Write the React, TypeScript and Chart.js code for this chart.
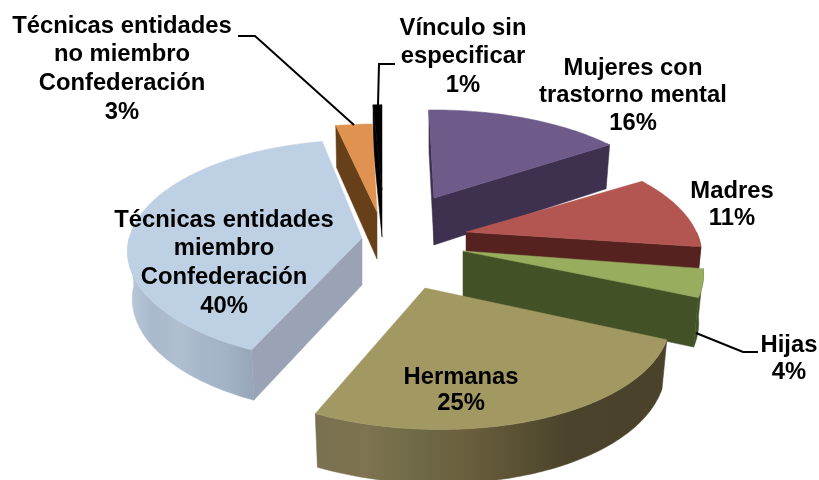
import React, { useEffect, useRef } from "react";
import { Chart, registerables } from "chart.js";

Chart.register(...registerables);

const categories = [
  "Mujeres con trastorno mental",
  "Madres",
  "Hijas",
  "Hermanas",
  "Técnicas entidades miembro Confederación",
  "Técnicas entidades no miembro Confederación",
  "Vínculo sin especificar",
];
const values = [16, 11, 4, 25, 40, 3, 1];
const topColors = ["#6F5B8A", "#B35651", "#98AE5E", "#A29862", "#BED0E4", "#E09350", "#000000"];
const wallColors = ["#3E304F", "#552220", "#435126", "#4A4229", "#99A3B5", "#673F18", "#000000"];
const rimStops = [
  ["#3E304F"],
  ["#552220"],
  ["#435126"],
  ["#78714F", "#7F7351", "#6E6A47", "#6B5F3E", "#5A5233", "#4B432B", "#4A422A", "#4A4229"],
  ["#BACADC", "#A9B9CB", "#AFBFD0", "#A7B7C9", "#A3B3C6", "#96A6B8"],
  ["#673F18"],
  ["#000000"],
];
// Explosion of each slice from the pie centre, pixels
const explodeX = [24.5, 56.5, 53.5, 15.5, -47.5, -32.5, -27.5];
const explodeY = [-42, -8, 11, 48, -2, -28, -50];
// Per-slice corrections of the 3-D view
const sliceTurn = [1.5, 3.5, 5, 3, 6.4, 5.2, 3];
const sliceScaleX = [0.985, 0.96, 0.98, 1, 0.97, 0.98, 0.72];
const sliceSquash = [0.444, 0.444, 0.444, 0.465, 0.458, 0.444, 0.43];
const slicePersp = [0.21, 0.21, 0.21, 0.21, 0.12, 0.21, 0.21];
const sliceShear = [0, 0, 0, 0.03, 0, 0, 0];
// Back to front
const paintOrder = [6, 5, 4, 0, 1, 2, 3];

const labelLines = [
  ["Mujeres con", "trastorno mental", "16%"],
  ["Madres", "11%"],
  ["Hijas", "4%"],
  ["Hermanas", "25%"],
  ["Técnicas entidades", "miembro", "Confederación", "40%"],
  ["Técnicas entidades", "no miembro", "Confederación", "3%"],
  ["Vínculo sin", "especificar", "1%"],
];
const labelX = [633, 732, 789, 461, 224, 122, 463];
const labelY = [68, 191, 345, 377, 220, 26, 28];
const labelGap = [27.5, 27, 27, 26, 28.7, 28.7, 28.5];

const leaderLines = [
  [[696, 333], [743, 352], [758, 352]],
  [[238, 36], [255, 36], [354, 125]],
  [[395, 64], [379, 64], [378, 105]],
];

const ROTATION = -3;
const DEPTH = 47;

const pieProjection = {
  id: "pieProjection",
  beforeDatasetsDraw(chart: any) {
    const ctx = chart.ctx as CanvasRenderingContext2D;
    const meta = chart.getDatasetMeta(0);
    const place = (i: number, a: number, el: any, down: boolean) => {
      const R = el.outerRadius;
      const u = Math.sin(a);
      const v = -Math.cos(a);
      const k = 1 / (1 - slicePersp[i] * v);
      const x = R * sliceScaleX[i] * u * k * (down ? 0.98 : 1);
      const y = R * sliceSquash[i] * v * k + sliceShear[i] * x + (down ? DEPTH * Math.pow(k, 0.6) : 0);
      return [el.x + explodeX[i] + x, el.y + explodeY[i] + y];
    };
    const apex = (i: number, el: any, down: boolean) => [
      el.x + explodeX[i],
      el.y + explodeY[i] + (down ? DEPTH : 0),
    ];
    const poly = (pts: number[][], fill: any) => {
      ctx.beginPath();
      pts.forEach((p, n) => (n ? ctx.lineTo(p[0], p[1]) : ctx.moveTo(p[0], p[1])));
      ctx.closePath();
      ctx.fillStyle = fill;
      ctx.fill();
      ctx.strokeStyle = fill;
      ctx.lineWidth = 0.5;
      ctx.stroke();
    };
    for (const i of paintOrder) {
      const el = meta.data[i];
      const turn = (sliceTurn[i] * Math.PI) / 180;
      const s = el.startAngle + Math.PI / 2 + turn;
      const e = el.endAngle + Math.PI / 2 + turn;
      const steps = Math.max(2, Math.ceil(((e - s) * 180) / Math.PI));
      const angleAt = (n: number) => s + ((e - s) * n) / steps;

      // straight walls that face the viewer
      if (Math.sin(s) < 0) {
        poly([apex(i, el, false), place(i, s, el, false), place(i, s, el, true), apex(i, el, true)], wallColors[i]);
      }
      if (Math.sin(e) > 0) {
        poly([apex(i, el, false), place(i, e, el, false), place(i, e, el, true), apex(i, el, true)], wallColors[i]);
      }
      // rim
      const a0 = Math.max(s, Math.PI / 2);
      const a1 = Math.min(e, (3 * Math.PI) / 2);
      if (a1 > a0) {
        const n = Math.ceil(((a1 - a0) * 180) / Math.PI) + 1;
        const upper: number[][] = [];
        const lower: number[][] = [];
        for (let j = 0; j <= n; j++) {
          const a = a0 + ((a1 - a0) * j) / n;
          upper.push(place(i, a, el, false));
          lower.push(place(i, a, el, true));
        }
        const all = upper.concat(lower);
        const xs = all.map((p) => p[0]);
        const grad = ctx.createLinearGradient(Math.min(...xs), 0, Math.max(...xs), 0);
        const stops = rimStops[i];
        stops.forEach((c, m) => grad.addColorStop(stops.length > 1 ? m / (stops.length - 1) : 0, c));
        poly(upper.concat(lower.reverse()), grad);
      }
      // top face
      const top = [apex(i, el, false)];
      for (let n = 0; n <= steps; n++) top.push(place(i, angleAt(n), el, false));
      poly(top, el.options.backgroundColor);
    }
    return false;
  },
  afterDraw(chart: any) {
    const ctx = chart.ctx as CanvasRenderingContext2D;
    ctx.save();
    ctx.strokeStyle = "#000000";
    ctx.lineWidth = 2;
    leaderLines.forEach((line) => {
      ctx.beginPath();
      line.forEach((p, n) => (n ? ctx.lineTo(p[0], p[1]) : ctx.moveTo(p[0], p[1])));
      ctx.stroke();
    });
    ctx.fillStyle = "#000000";
    ctx.font = 'bold 23.8px "Liberation Sans", Arial, sans-serif';
    ctx.textAlign = "center";
    ctx.textBaseline = "middle";
    labelLines.forEach((lines, i) => {
      lines.forEach((t, n) => ctx.fillText(t, labelX[i], labelY[i] + n * labelGap[i]));
    });
    ctx.restore();
  },
};

export default function App() {
  const ref = useRef<HTMLCanvasElement | null>(null);
  useEffect(() => {
    document.body.style.margin = "0";
    const chart = new Chart(ref.current as HTMLCanvasElement, {
      type: "pie",
      data: {
        labels: categories,
        datasets: [{ data: values, backgroundColor: topColors, borderWidth: 0 }],
      },
      options: {
        responsive: false,
        animation: false,
        rotation: ROTATION,
        layout: { padding: 0 },
        plugins: { legend: { display: false }, tooltip: { enabled: false } },
      },
      plugins: [pieProjection],
    } as any);
    return () => chart.destroy();
  }, []);
  return (
    <div style={{ width: 819, height: 480, background: "#fff" }}>
      <canvas ref={ref} width={819} height={480} style={{ display: "block" }} />
    </div>
  );
}
